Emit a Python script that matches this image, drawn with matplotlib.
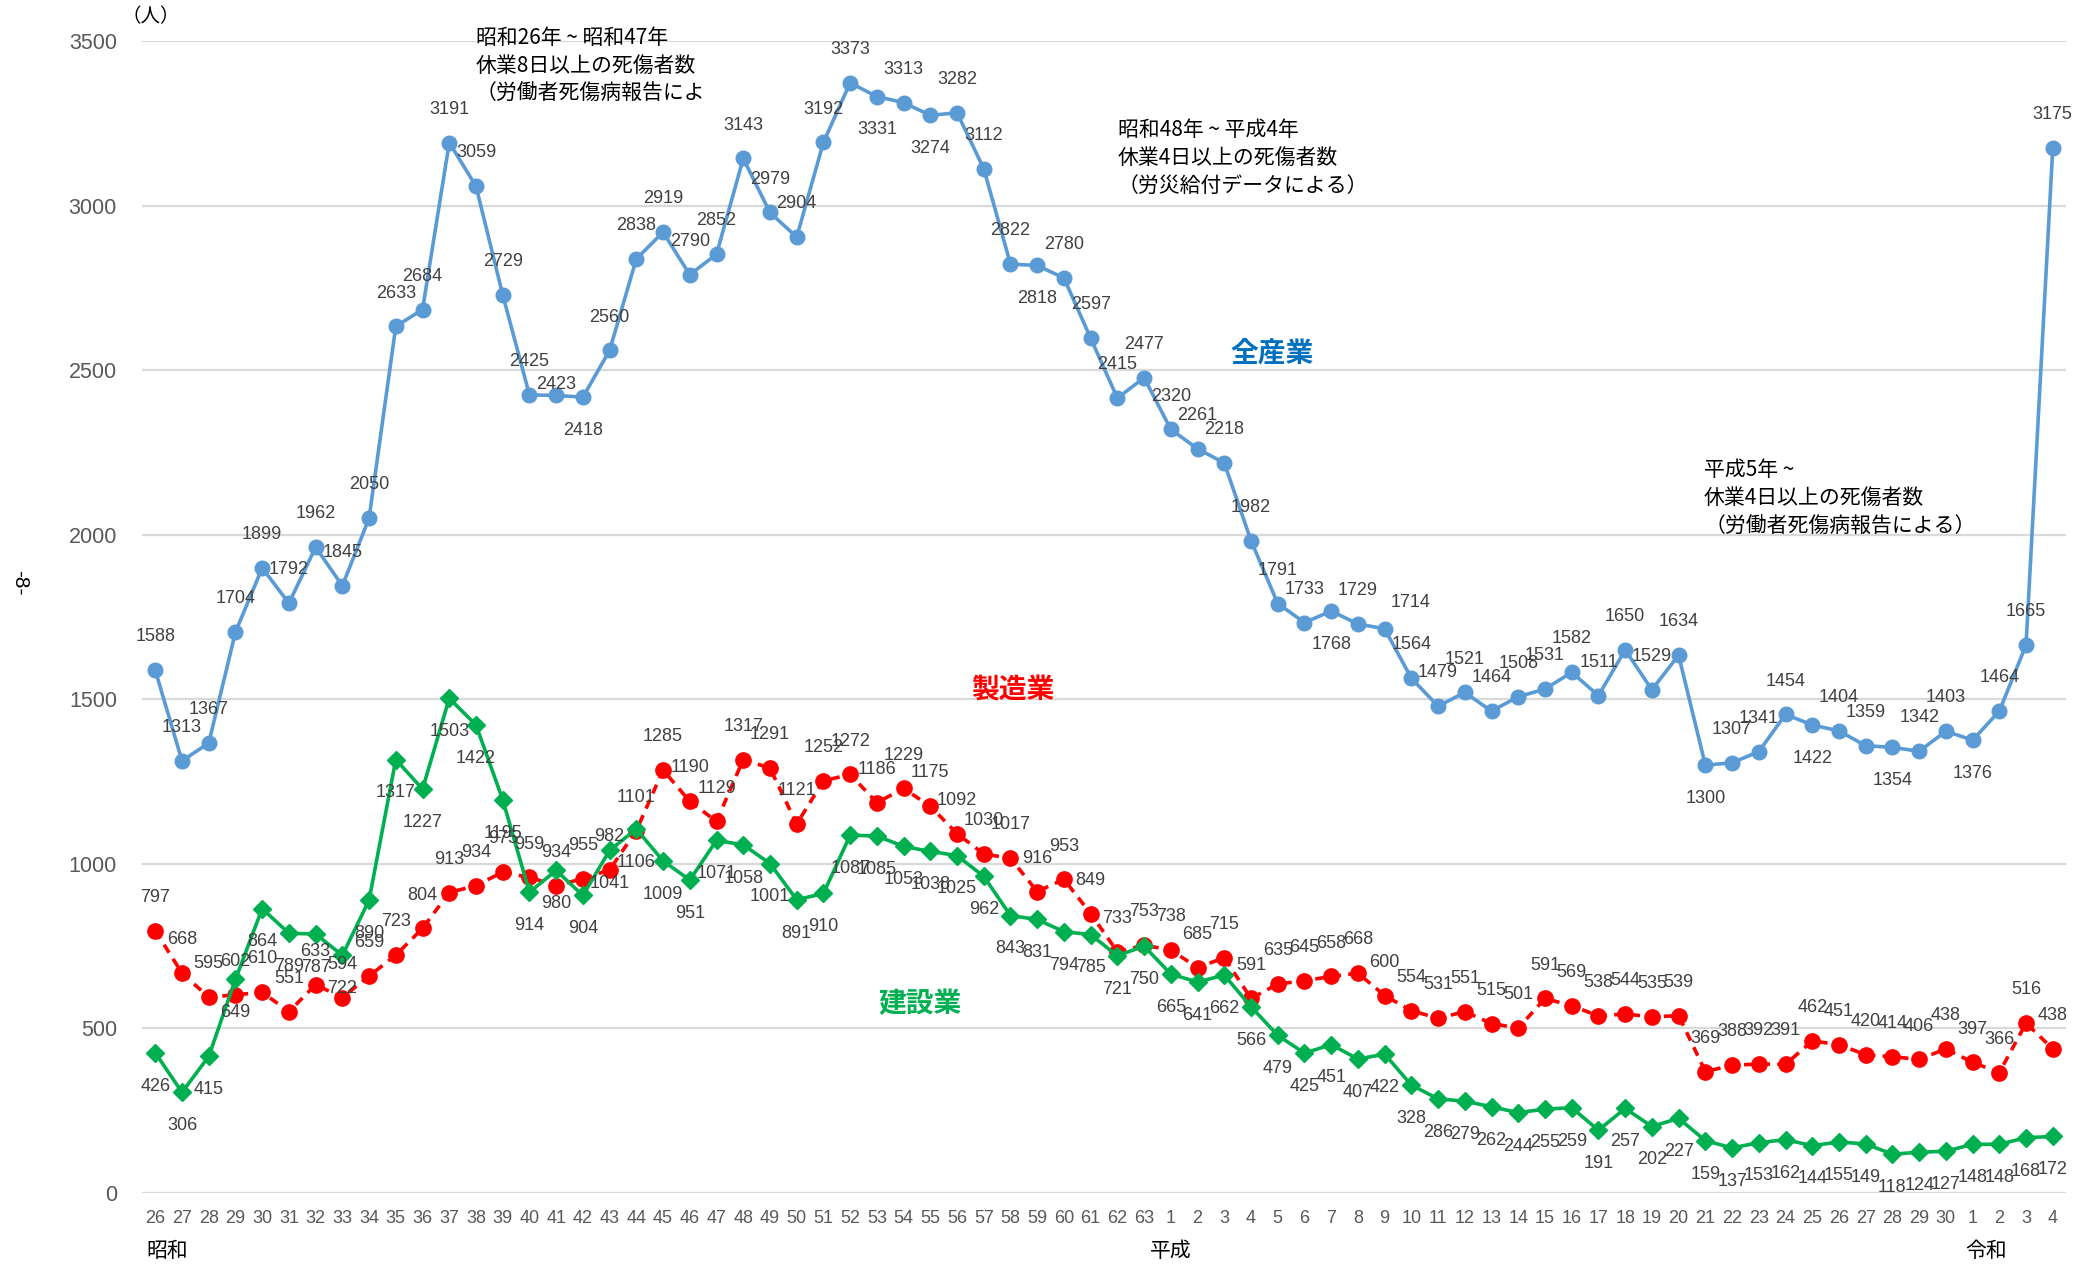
import matplotlib
matplotlib.use("Agg")
import matplotlib.pyplot as plt
import matplotlib.transforms as mtransforms

plt.rcParams['font.family'] = ['Liberation Sans', 'Noto Sans CJK JP', 'DejaVu Sans']

# x categories: 昭和26-63, 平成1-30, 令和1-4
showa = [str(y) for y in range(26, 64)]
heisei = [str(y) for y in range(1, 31)]
reiwa = [str(y) for y in range(1, 5)]
tick_labels = showa + heisei + reiwa

# 全産業
all_ind = [1588, 1313, 1367, 1704, 1899, 1792, 1962, 1845, 2050, 2633,
           2684, 3191, 3059, 2729, 2425, 2423, 2418, 2560, 2838, 2919,
           2790, 2852, 3143, 2979, 2904, 3192, 3373, 3331, 3313, 3274,
           3282, 3112, 2822, 2818, 2780, 2597, 2415, 2477,
           2320, 2261, 2218, 1982, 1791, 1733, 1768, 1729, 1714, 1564,
           1479, 1521, 1464, 1508, 1531, 1582, 1511, 1650, 1529, 1634,
           1300, 1307, 1341, 1454, 1422, 1404, 1359, 1354, 1342, 1403,
           1376, 1464, 1665, 3175]
# 製造業
manuf = [797, 668, 595, 602, 610, 551, 633, 594, 659, 723,
         804, 913, 934, 975, 959, 934, 955, 982, 1101, 1285,
         1190, 1129, 1317, 1291, 1121, 1252, 1272, 1186, 1229, 1175,
         1092, 1030, 1017, 916, 953, 849, 733, 753,
         738, 685, 715, 591, 635, 645, 658, 668, 600, 554,
         531, 551, 515, 501, 591, 569, 538, 544, 535, 539,
         369, 388, 392, 391, 462, 451, 420, 414, 406, 438,
         397, 366, 516, 438]
# 建設業
constr = [426, 306, 415, 649, 864, 789, 787, 722, 890, 1317,
          1227, 1503, 1422, 1195, 914, 980, 904, 1041, 1106, 1009,
          951, 1071, 1058, 1001, 891, 910, 1087, 1085, 1053, 1038,
          1025, 962, 843, 831, 794, 785, 721, 750,
          665, 641, 662, 566, 479, 425, 451, 407, 422, 328,
          286, 279, 262, 244, 255, 259, 191, 257, 202, 227,
          159, 137, 153, 162, 144, 155, 149, 118, 124, 127,
          148, 148, 168, 172]

# blue labels that sit under the point, and a couple moved by hand
blue_below = [16, 27, 29, 33, 44, 58, 62, 65, 68]
blue_moved = {15: (0, 8), 46: (19, 19)}

BLUE = '#5B9BD5'
RED = '#FF0000'
GREEN = '#00B050'
LBL = '#404040'
TICK = '#595959'
JP = ['Noto Sans CJK JP', 'DejaVu Sans']

fig = plt.figure(figsize=(20.87, 12.65), dpi=100)
ax = fig.add_axes([0.068, 0.0569, 0.922, 0.9107])
x = list(range(len(all_ind)))

ax.plot(x, manuf, color=RED, lw=2.6, ls=(0, (2.6, 2.0)), marker='o', ms=11,
        mec=RED, zorder=2)
ax.plot(x, constr, color=GREEN, lw=2.6, marker='D', ms=9, mec=GREEN, zorder=3)
ax.plot(x, all_ind, color=BLUE, lw=2.6, marker='o', ms=10.5, mec=BLUE, zorder=4)

for i, v in enumerate(all_ind):
    off = blue_moved.get(i, (0, -24 if i in blue_below else 24))
    ax.annotate(str(v), (i, v), xytext=off, textcoords='offset points',
                ha='center', va='center', fontsize=13, color=LBL, zorder=6)
for i, v in enumerate(manuf):
    ax.annotate(str(v), (i, v), xytext=(0, 24), textcoords='offset points',
                ha='center', va='center', fontsize=13, color=LBL, zorder=6)
for i, v in enumerate(constr):
    ax.annotate(str(v), (i, v), xytext=(0, -24), textcoords='offset points',
                ha='center', va='center', fontsize=13, color=LBL, zorder=6)

ax.set_xlim(-0.5, len(x) - 0.5)
ax.set_ylim(0, 3500)
ax.set_yticks(range(0, 3501, 500))
ax.set_xticks(x)
ax.set_xticklabels(tick_labels)
ax.tick_params(axis='y', length=0, pad=18, labelsize=15.5, labelcolor=TICK)
ax.tick_params(axis='x', length=0, pad=12, labelsize=13, labelcolor=TICK)
ax.grid(axis='y', color='#D9D9D9', lw=1.6)
ax.set_axisbelow(True)
for s in ax.spines.values():
    s.set_visible(False)

# era labels under the axis
tr = mtransforms.blended_transform_factory(ax.transData, ax.transAxes)
for pos, name in [(0.45, '昭和'), (38.0, '平成'), (68.5, '令和')]:
    ax.text(pos, -0.05, name, transform=tr, ha='center', va='center',
            fontsize=15, family=JP, color='black')

# series names
ax.text(41.8, 2550, '全産業', ha='center', va='center', fontsize=20,
        fontweight='bold', color='#0070C0', family=JP)
ax.text(32.1, 1526, '製造業', ha='center', va='center', fontsize=20,
        fontweight='bold', color=RED, family=JP)
ax.text(28.6, 574, '建設業', ha='center', va='center', fontsize=20,
        fontweight='bold', color=GREEN, family=JP)

# notes
fig.text(0.228, 0.979, '昭和26年 ~ 昭和47年\n休業8日以上の死傷者数\n（労働者死傷病報告によ',
         ha='left', va='top', fontsize=15, linespacing=1.36, family=JP)
fig.text(0.5357, 0.906, '昭和48年 ~ 平成4年\n休業4日以上の死傷者数\n（労災給付データによる）',
         ha='left', va='top', fontsize=15, linespacing=1.36, family=JP)
fig.text(0.8165, 0.637, '平成5年 ~\n休業4日以上の死傷者数\n（労働者死傷病報告による）',
         ha='left', va='top', fontsize=15, linespacing=1.36, family=JP)

fig.text(0.072, 0.987, '（人）', ha='center', va='center', fontsize=14, family=JP)
fig.text(0.0096, 0.539, '-8-', ha='center', va='center', fontsize=15,
         rotation=270)

fig.savefig('out.png', dpi=100)
